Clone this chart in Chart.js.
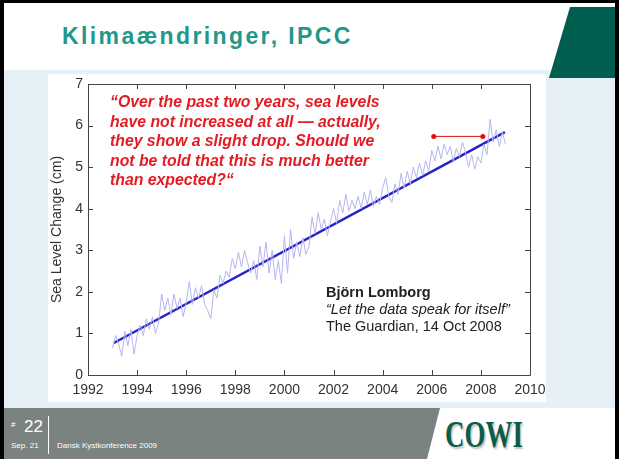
<!DOCTYPE html>
<html>
<head>
<meta charset="utf-8">
<script src="https://cdn.jsdelivr.net/npm/chart.js@4"></script>
<style>
  body { margin: 0; background: #000; }
  #slide { position: relative; width: 619px; height: 459px; overflow: hidden; background: #000; font-family: "Liberation Sans", Arial, sans-serif; }
  .abs { position: absolute; }
  #paper { left: 4px; top: 3px; width: 611px; height: 456px; background: #fff; }
  #band { left: 4px; top: 70px; width: 611px; height: 338px; background: #e6f1f7; }
  #panel { left: 48px; top: 74px; width: 498px; height: 328px; background: #fff; }
  #corner { left: 549px; top: 7px; width: 66px; height: 71px; background: #005e4e;
            clip-path: polygon(21px 0, 66px 0, 66px 71px, 0 71px); }
  #title { left: 62px; top: 23px; font-size: 23px; font-weight: bold; letter-spacing: 2.4px; color: #21988a; white-space: nowrap; }
  #footer { left: 4px; top: 408px; width: 436px; height: 51px; background: #7b8380;
            clip-path: polygon(0 0, 436px 0, 423px 51px, 0 51px); }
  .foot { color: #fff; white-space: nowrap; }
  #cowi { left: 445px; top: 414px; font-family: "Liberation Serif", serif; font-weight: bold; font-size: 38px; line-height: 40px;
          color: #0d5c48; transform: scaleX(0.71); transform-origin: 0 0; text-shadow: 2px 2px 2px rgba(0,0,0,0.25); }
  canvas { position: absolute; left: 48px; top: 74px; }
  .quote { left: 110px; top: 92px; color: #e41b23; font-size: 15.8px; line-height: 19.5px; font-weight: bold; font-style: italic; white-space: nowrap; }
  .source { left: 326px; top: 284px; color: #222; font-size: 14.5px; line-height: 17px; white-space: nowrap; }
</style>
</head>
<body>
<div id="slide">
  <div id="paper" class="abs"></div>
  <div id="band" class="abs"></div>
  <div id="panel" class="abs"></div>
  <div id="corner" class="abs"></div>
  <div id="title" class="abs">Klimaændringer, IPCC</div>
  <canvas id="grafico" width="498" height="328"></canvas>
  <div class="abs quote">“Over the past two years, sea levels<br>have not increased at all — actually,<br>they show a slight drop. Should we<br>not be told that this is much better<br>than expected?“</div>
  <div class="abs source"><b>Björn Lomborg</b><br><i>“Let the data speak for itself”</i><br>The Guardian, 14 Oct 2008</div>
  <div id="footer" class="abs"></div>
  <div class="abs foot" style="left:11px;top:420px;font-size:8px;">#</div>
  <div class="abs foot" style="left:24px;top:417px;font-size:17px;">22</div>
  <div class="abs foot" style="left:11px;top:441px;font-size:8px;">Sep. 21</div>
  <div class="abs" style="left:48px;top:416px;width:1px;height:38px;background:#fff;"></div>
  <div class="abs foot" style="left:57px;top:441px;font-size:8px;">Dansk Kystkonference 2009</div>
  <div id="cowi" class="abs">COWI</div>
</div>

<script>
// satellitmålinger, ca. 8 pr. år
const seaDates = [
  1993.000, 1993.125, 1993.250, 1993.375, 1993.500, 1993.625, 1993.750, 1993.875,
  1994.000, 1994.125, 1994.250, 1994.375, 1994.500, 1994.625, 1994.750, 1994.875,
  1995.000, 1995.125, 1995.250, 1995.375, 1995.500, 1995.625, 1995.750, 1995.875,
  1996.000, 1996.125, 1996.250, 1996.375, 1996.500, 1996.625, 1996.750, 1996.875,
  1997.000, 1997.125, 1997.250, 1997.375, 1997.500, 1997.625, 1997.750, 1997.875,
  1998.000, 1998.125, 1998.250, 1998.375, 1998.500, 1998.625, 1998.750, 1998.875,
  1999.000, 1999.125, 1999.250, 1999.375, 1999.500, 1999.625, 1999.750, 1999.875,
  2000.000, 2000.125, 2000.250, 2000.375, 2000.500, 2000.625, 2000.750, 2000.875,
  2001.000, 2001.125, 2001.250, 2001.375, 2001.500, 2001.625, 2001.750, 2001.875,
  2002.000, 2002.125, 2002.250, 2002.375, 2002.500, 2002.625, 2002.750, 2002.875,
  2003.000, 2003.125, 2003.250, 2003.375, 2003.500, 2003.625, 2003.750, 2003.875,
  2004.000, 2004.125, 2004.250, 2004.375, 2004.500, 2004.625, 2004.750, 2004.875,
  2005.000, 2005.125, 2005.250, 2005.375, 2005.500, 2005.625, 2005.750, 2005.875,
  2006.000, 2006.125, 2006.250, 2006.375, 2006.500, 2006.625, 2006.750, 2006.875,
  2007.000, 2007.125, 2007.250, 2007.375, 2007.500, 2007.625, 2007.750, 2007.875,
  2008.000, 2008.125, 2008.250, 2008.375, 2008.500, 2008.625, 2008.750, 2008.875,
  2009.000
];
const seaLevel = [
  0.65, 0.95, 0.75, 0.45, 1.05, 0.70, 1.10, 0.50,
  0.95, 1.20, 0.95, 1.35, 1.10, 1.40, 1.00, 1.25,
  1.95, 1.55, 1.85, 1.45, 1.95, 1.60, 1.85, 1.40,
  1.75, 2.25, 1.70, 2.10, 1.85, 2.15, 1.70, 1.55,
  1.35, 2.05, 1.85, 2.40, 2.20, 2.50, 2.35, 2.80,
  2.55, 2.95, 2.60, 3.00, 2.70, 2.45, 2.75, 2.30,
  3.10, 2.60, 3.20, 2.45, 3.00, 2.30, 2.75, 2.20,
  3.35, 2.45, 3.50, 2.80, 3.20, 2.85, 3.30, 2.90,
  3.10, 3.80, 3.40, 3.90, 3.50, 3.75, 3.35, 3.70,
  4.00, 3.65, 4.20, 3.90, 4.35, 3.95, 4.20, 4.00,
  4.30, 4.00, 4.40, 4.10, 4.45, 4.05, 4.30, 4.10,
  4.50, 4.75, 4.30, 4.15, 4.60, 4.35, 4.85, 4.50,
  4.90, 4.60, 5.00, 4.75, 5.10, 4.80, 5.15, 4.90,
  5.40, 5.15, 5.50, 5.20, 5.55, 5.30, 5.50, 5.15,
  5.45, 5.25, 5.60, 5.35, 5.00, 5.30, 4.95, 5.25,
  5.10, 5.55, 5.30, 6.15, 5.60, 5.90, 5.50, 5.85,
  5.55
];

// lineær trend
const trendX = [1993.05, 2008.98];
const trendY = [0.77, 5.84];

// Lomborgs "to år" markering
const flatX = [2006.08, 2008.08];
const flatY = [5.74, 5.74];

const xTicks = [1992, 1994, 1996, 1998, 2000, 2002, 2004, 2006, 2008, 2010];
const yTicks = [0, 1, 2, 3, 4, 5, 6, 7];

function pontos(xs, ys) {
  return xs.map((x, i) => ({ x: x, y: ys[i] }));
}

// ramme og indadvendte tick-streger (Matlab-stil)
const rammePlugin = {
  id: "ramme",
  afterDatasetsDraw(chart) {
    const ctx = chart.ctx;
    const a = chart.chartArea;
    const sx = chart.scales.x;
    const sy = chart.scales.y;
    ctx.save();
    ctx.strokeStyle = "#444";
    ctx.lineWidth = 1;
    ctx.beginPath();
    ctx.rect(Math.round(a.left) + 0.5, Math.round(a.top) + 0.5, Math.round(a.right - a.left), Math.round(a.bottom - a.top));
    xTicks.forEach(v => {
      const px = Math.round(sx.getPixelForValue(v)) + 0.5;
      ctx.moveTo(px, a.bottom); ctx.lineTo(px, a.bottom - 5);
      ctx.moveTo(px, a.top); ctx.lineTo(px, a.top + 5);
    });
    yTicks.forEach(v => {
      const py = Math.round(sy.getPixelForValue(v)) + 0.5;
      ctx.moveTo(a.left, py); ctx.lineTo(a.left + 5, py);
      ctx.moveTo(a.right, py); ctx.lineTo(a.right - 5, py);
    });
    ctx.stroke();
    ctx.restore();
  }
};

const fonteEixo = { family: "'Liberation Sans', Arial, sans-serif", size: 14 };

new Chart(document.getElementById("grafico"), {
  type: "line",
  data: {
    datasets: [
      {
        label: "Havniveau",
        data: pontos(seaDates, seaLevel),
        borderColor: "#b5b5f2",
        borderWidth: 1,
        pointRadius: 0,
        tension: 0
      },
      {
        label: "Trend",
        data: pontos(trendX, trendY),
        borderColor: "#2424c6",
        borderWidth: 2.5,
        pointRadius: 0
      },
      {
        label: "To år",
        data: pontos(flatX, flatY),
        borderColor: "#e01010",
        borderWidth: 1,
        pointRadius: 2.5,
        pointBackgroundColor: "#e01010",
        pointBorderWidth: 0
      }
    ]
  },
  options: {
    responsive: false,
    animation: false,
    layout: { padding: { top: 10, right: 16, left: 0, bottom: 0 } },
    plugins: {
      legend: { display: false },
      tooltip: { enabled: false }
    },
    scales: {
      x: {
        type: "linear",
        min: 1992,
        max: 2010,
        afterBuildTicks: s => { s.ticks = xTicks.map(v => ({ value: v })); },
        afterFit: s => { s.height = 27; s.paddingLeft = 0; s.paddingRight = 0; },
        grid: { display: false, drawTicks: false },
        border: { display: false },
        ticks: {
          callback: v => String(v),
          color: "#333",
          font: fonteEixo,
          padding: 7,
          maxRotation: 0,
          autoSkip: false
        }
      },
      y: {
        type: "linear",
        min: 0,
        max: 7,
        afterBuildTicks: s => { s.ticks = yTicks.map(v => ({ value: v })); },
        afterFit: s => { s.width = 40; s.paddingTop = 0; s.paddingBottom = 0; },
        grid: { display: false, drawTicks: false },
        border: { display: false },
        ticks: {
          color: "#333",
          font: fonteEixo,
          padding: 5
        },
        title: {
          display: true,
          text: "Sea Level Change (cm)",
          color: "#333",
          font: fonteEixo,
          padding: { top: 1, bottom: 0 }
        }
      }
    }
  },
  plugins: [rammePlugin]
});
</script>
</body>
</html>
